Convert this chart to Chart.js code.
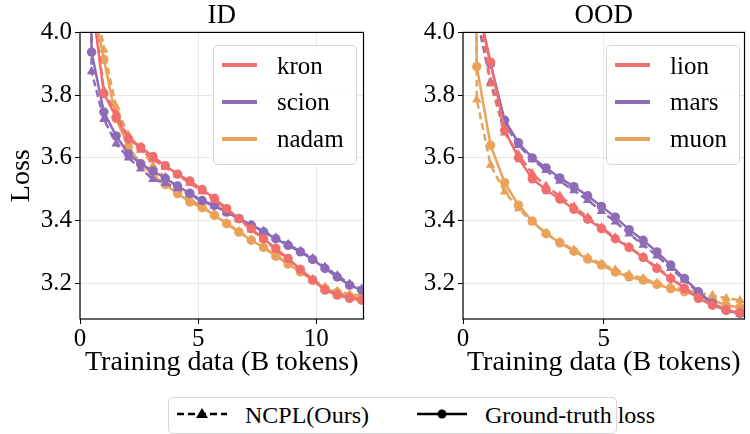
<!DOCTYPE html>
<html>
<head>
<meta charset="utf-8">
<script src="https://cdn.jsdelivr.net/npm/chart.js@4.4.1/dist/chart.umd.min.js"></script>
<style>
  body { margin: 0; width: 750px; height: 434px; overflow: hidden; background: #fff; position: relative; font-family: "Liberation Serif", "DejaVu Serif", serif; color: #000; }
  canvas { position: absolute; top: 0; }
  #idChart { left: 0; }
  #oodChart { left: 380px; }
  .legend { position: absolute; background: rgba(255,255,255,0.85); border: 1px solid #d6d6d6; border-radius: 5px; }
  .swatch { position: absolute; width: 35px; height: 4px; }
  .label { position: absolute; height: 36px; line-height: 36px; font-size: 25px; white-space: nowrap; }
  #bottomLegend { left: 168px; top: 397px; width: 447px; height: 35px; }
  #bottomLegend .label { font-size: 24px; }
  #bottomLegend svg { position: absolute; top: 6px; }
</style>
</head>
<body>
<canvas id="idChart" width="369" height="385"></canvas>
<canvas id="oodChart" width="370" height="385"></canvas>

<div class="legend" id="idLegend" style="left:213px; top:45px; width:142px; height:118px;"></div>
<div class="legend" id="oodLegend" style="left:606px; top:45px; width:132px; height:118px;"></div>

<div class="legend" id="bottomLegend">
  <svg width="50" height="20" style="left:8px;">
    <line x1="0" y1="10" x2="50" y2="10" stroke="#000" stroke-width="2.5" stroke-dasharray="7 4"/>
    <polygon points="25,4 31,14 19,14" fill="#000"/>
  </svg>
  <div class="label" style="left:76px; top:-1px;">NCPL(Ours)</div>
  <svg width="50" height="20" style="left:248px;">
    <line x1="0" y1="10" x2="50" y2="10" stroke="#000" stroke-width="2.5"/>
    <circle cx="25" cy="10" r="4.5" fill="#000"/>
  </svg>
  <div class="label" style="left:316px; top:-1px;">Ground-truth loss</div>
</div>

<script>
const SERIF = '"Liberation Serif", "DejaVu Serif", serif';
const RED = '#ee6f6d';
const PURPLE = '#8d6bb7';
const ORANGE = '#eaa25b';

// ID panel
const idTokens = [0, 0.49, 1.01, 1.53, 2.05, 2.57, 3.09, 3.61, 4.13, 4.65, 5.17, 5.69, 6.21, 6.73, 7.25, 7.77, 8.29, 8.81, 9.33, 9.85, 10.37, 10.89, 11.41, 11.93];
const kronTruth  = [10.9, 4.11, 3.805, 3.73, 3.66, 3.634, 3.604, 3.575, 3.548, 3.526, 3.499, 3.471, 3.438, 3.406, 3.374, 3.342, 3.311, 3.279, 3.244, 3.210, 3.178, 3.162, 3.152, 3.146];
const kronPred   = [10.9, 4.12, 3.815, 3.74, 3.665, 3.625, 3.595, 3.570, 3.545, 3.520, 3.493, 3.465, 3.435, 3.403, 3.371, 3.340, 3.308, 3.276, 3.244, 3.212, 3.182, 3.165, 3.155, 3.148];
const scionTruth = [10.9, 3.937, 3.746, 3.670, 3.612, 3.581, 3.558, 3.535, 3.510, 3.487, 3.464, 3.448, 3.427, 3.406, 3.385, 3.364, 3.342, 3.321, 3.300, 3.276, 3.247, 3.220, 3.194, 3.178];
const scionPred  = [10.9, 3.875, 3.723, 3.645, 3.600, 3.565, 3.532, 3.519, 3.502, 3.482, 3.462, 3.446, 3.426, 3.406, 3.386, 3.366, 3.345, 3.324, 3.302, 3.279, 3.252, 3.225, 3.198, 3.182];
const nadamTruth = [10.9, 4.11, 3.914, 3.725, 3.635, 3.581, 3.544, 3.515, 3.486, 3.459, 3.441, 3.417, 3.390, 3.363, 3.337, 3.314, 3.286, 3.261, 3.236, 3.210, 3.183, 3.170, 3.159, 3.157];
const nadamPred  = [10.9, 4.20, 3.945, 3.762, 3.672, 3.631, 3.575, 3.538, 3.505, 3.468, 3.444, 3.419, 3.392, 3.365, 3.339, 3.315, 3.289, 3.264, 3.239, 3.213, 3.188, 3.175, 3.165, 3.160];

// OOD panel
const oodTokens = [0, 0.49, 0.98, 1.48, 1.97, 2.46, 2.95, 3.44, 3.94, 4.43, 4.92, 5.41, 5.90, 6.40, 6.89, 7.38, 7.87, 8.36, 8.86, 9.35, 9.84];
const lionTruth = [10.9, 4.10, 3.905, 3.688, 3.600, 3.533, 3.498, 3.468, 3.436, 3.404, 3.374, 3.342, 3.314, 3.282, 3.247, 3.215, 3.183, 3.152, 3.130, 3.114, 3.106];
const lionPred  = [10.9, 4.12, 3.836, 3.680, 3.610, 3.550, 3.510, 3.478, 3.445, 3.410, 3.378, 3.345, 3.316, 3.284, 3.250, 3.218, 3.186, 3.155, 3.133, 3.117, 3.108];
const marsTruth = [10.9, 4.10, 3.900, 3.720, 3.648, 3.600, 3.568, 3.536, 3.508, 3.479, 3.445, 3.411, 3.371, 3.337, 3.300, 3.258, 3.215, 3.173, 3.136, 3.114, 3.104];
const marsPred  = [10.9, 4.05, 3.842, 3.710, 3.640, 3.595, 3.560, 3.526, 3.496, 3.465, 3.430, 3.396, 3.358, 3.322, 3.288, 3.248, 3.210, 3.170, 3.135, 3.113, 3.103];
const muonTruth = [10.9, 3.891, 3.640, 3.521, 3.449, 3.398, 3.358, 3.329, 3.302, 3.277, 3.258, 3.236, 3.220, 3.210, 3.196, 3.183, 3.173, 3.159, 3.146, 3.130, 3.123];
const muonPred  = [10.9, 3.785, 3.577, 3.492, 3.438, 3.395, 3.360, 3.332, 3.306, 3.282, 3.262, 3.243, 3.228, 3.215, 3.201, 3.190, 3.180, 3.170, 3.162, 3.152, 3.146];

// ticks
const lossTicks = [3.2, 3.4, 3.6, 3.8, 4.0];
const idTokenTicks = [0, 5, 10];
const oodTokenTicks = [0, 5];

// box round the plot area, like matplotlib spines
const framePlugin = {
    id: 'frame',
    afterDatasetsDraw(chart) {
        const { ctx, chartArea: a } = chart;
        ctx.save();
        ctx.strokeStyle = '#000';
        ctx.lineWidth = 1.2;
        ctx.strokeRect(a.left, a.top, a.right - a.left, a.bottom - a.top);
        ctx.restore();
    }
};

function points(xs, ys) {
    return xs.map((x, i) => ({ x: x, y: ys[i] }));
}

function lineSet(label, xs, ys, color, dashed) {
    return {
        label: label,
        data: points(xs, ys),
        borderColor: color,
        backgroundColor: color,
        borderWidth: 2.5,
        borderDash: dashed ? [7, 4] : [],
        pointStyle: dashed ? 'triangle' : 'circle',
        pointRadius: dashed ? 5.5 : 4.7,
        pointBorderWidth: 0,
        clip: 0
    };
}

function makeChart(canvasId, title, tokens, series, xTicks, xMax, yAxisWidth, showYTitle) {
    const datasets = [];
    series.forEach(s => {
        datasets.push(lineSet(s.name + ' pred', tokens, s.pred, s.color, true));
        datasets.push(lineSet(s.name, tokens, s.truth, s.color, false));
    });

    return new Chart(document.getElementById(canvasId), {
        type: 'line',
        data: { datasets: datasets },
        options: {
            responsive: false,
            animation: false,
            layout: { padding: 0 },
            plugins: {
                legend: { display: false },
                tooltip: { enabled: false },
                title: {
                    display: true,
                    text: title,
                    fullSize: false,
                    color: '#000',
                    font: { family: SERIF, size: 27, weight: 'normal' },
                    padding: { top: 0, bottom: 0 }
                }
            },
            scales: {
                x: {
                    type: 'linear',
                    min: 0,
                    max: xMax,
                    afterBuildTicks: s => { s.ticks = xTicks.map(v => ({ value: v })); },
                    afterFit: s => { s.height = 66; },
                    border: { display: false },
                    grid: { color: '#e8e8e8', tickColor: '#000', tickLength: 5 },
                    ticks: {
                        color: '#000', padding: 0, maxRotation: 0,
                        font: { family: SERIF, size: 25 },
                        callback: v => String(v)
                    },
                    title: {
                        display: true,
                        text: 'Training data (B tokens)',
                        color: '#000',
                        font: { family: SERIF, size: 28 },
                        padding: { top: 0, bottom: 6 }
                    }
                },
                y: {
                    min: 3.086,
                    max: 4.0,
                    afterBuildTicks: s => { s.ticks = lossTicks.map(v => ({ value: v })); },
                    afterFit: s => { s.width = yAxisWidth; },
                    border: { display: false },
                    grid: { color: '#e8e8e8', tickColor: '#000', tickLength: 5 },
                    ticks: {
                        color: '#000', padding: 3,
                        font: { family: SERIF, size: 25 },
                        callback: v => v.toFixed(1)
                    },
                    title: {
                        display: showYTitle,
                        text: 'Loss',
                        color: '#000',
                        font: { family: SERIF, size: 28 },
                        padding: { top: 5, bottom: 0 }
                    }
                }
            }
        },
        plugins: [framePlugin]
    });
}

function fillLegend(boxId, series, lineLeft, textLeft) {
    const box = document.getElementById(boxId);
    series.forEach((s, i) => {
        const y = 19 + i * 36.8;
        const sw = document.createElement('div');
        sw.className = 'swatch';
        sw.style.left = lineLeft + 'px';
        sw.style.top = (y - 2) + 'px';
        sw.style.background = s.color;
        box.appendChild(sw);
        const lb = document.createElement('div');
        lb.className = 'label';
        lb.style.left = textLeft + 'px';
        lb.style.top = (y - 17.5) + 'px';
        lb.textContent = s.name;
        box.appendChild(lb);
    });
}

const idSeries = [
    { name: 'kron', truth: kronTruth, pred: kronPred, color: RED },
    { name: 'scion', truth: scionTruth, pred: scionPred, color: PURPLE },
    { name: 'nadam', truth: nadamTruth, pred: nadamPred, color: ORANGE }
];
const oodSeries = [
    { name: 'lion', truth: lionTruth, pred: lionPred, color: RED },
    { name: 'mars', truth: marsTruth, pred: marsPred, color: PURPLE },
    { name: 'muon', truth: muonTruth, pred: muonPred, color: ORANGE }
];

makeChart('idChart', 'ID', idTokens, idSeries, idTokenTicks, 12, 80, true);
makeChart('oodChart', 'OOD', oodTokens, oodSeries, oodTokenTicks, 10, 83, false);

fillLegend('idLegend', idSeries, 8, 63);
fillLegend('oodLegend', oodSeries, 8, 63);
</script>
</body>
</html>
